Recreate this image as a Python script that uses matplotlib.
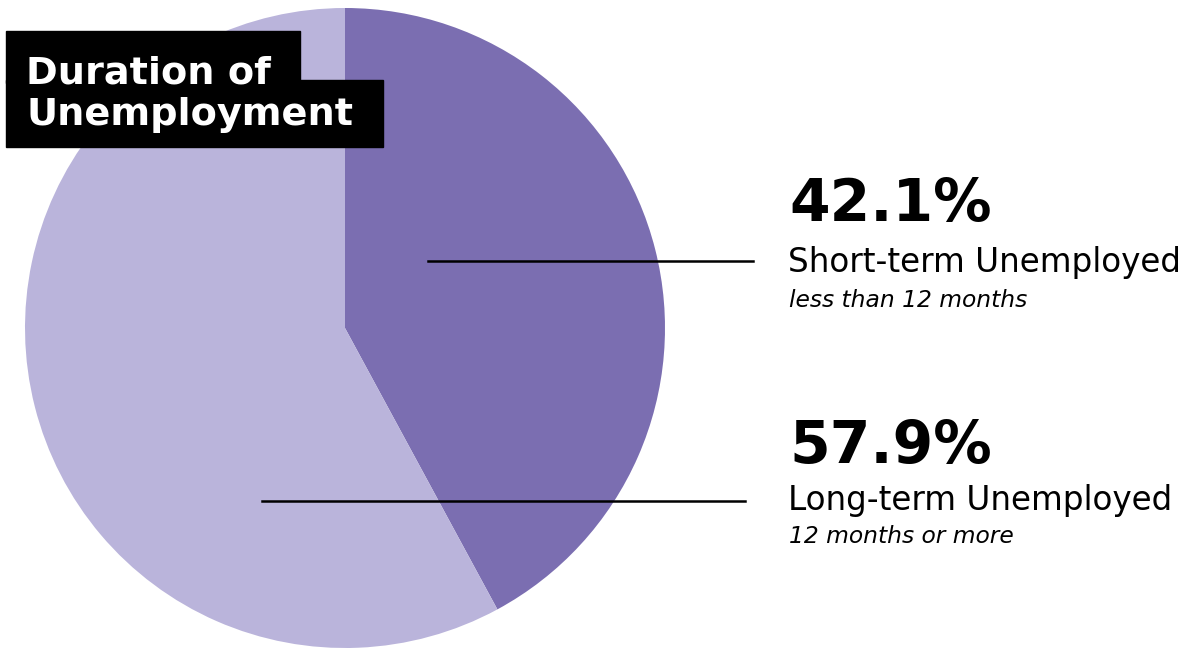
import matplotlib.pyplot as plt

labels = ["Short-term Unemployed", "Long-term Unemployed"]
notes = ["less than 12 months", "12 months or more"]
shares = [42.1, 57.9]
colors = ["#7b6eb1", "#bab4db"]

plt.rcParams['font.family'] = ['DejaVu Sans']

W, H = 1194, 648
fig = plt.figure(figsize=(W / 100, H / 100), dpi=100)

# pie axes: centre (345, 328) px, radius 320 px
ax = fig.add_axes([25 / W, 0, 640 / W, 640 / H])
ax.pie(shares, colors=colors, startangle=90, counterclock=False,
       radius=1, wedgeprops={'linewidth': 0})
ax.set_xlim(-1, 1)
ax.set_ylim(-1, 1)
ax.set_aspect('equal')
ax.axis('off')

# overlay in pixel coords for labels
ov = fig.add_axes([0, 0, 1, 1])
ov.set_xlim(0, W)
ov.set_ylim(H, 0)
ov.axis('off')

# title boxes
ov.add_patch(plt.Rectangle((6, 31), 294, 52, color='black', zorder=3))
ov.add_patch(plt.Rectangle((6, 80), 377, 67, color='black', zorder=3))
ov.text(26, 83, "Duration of", color='white', fontsize=27.5, fontweight='bold',
        va='baseline', zorder=4)
ov.text(26, 125, "Unemployment", color='white', fontsize=27.5, fontweight='bold',
        va='baseline', zorder=4)

# leader lines and labels
lines = [(428, 753, 261), (262, 745, 501)]
bases = [(221, 272, 307), (463, 510, 543)]
for (x0, x1, y), (b1, b2, b3), lab, note, s in zip(lines, bases, labels, notes, shares):
    ov.plot([x0, x1], [y, y], color='black', lw=1.8)
    ov.text(789, b1, f"{s}%", fontsize=42, fontweight='bold', va='baseline')
    ov.text(788, b2, lab, fontsize=23.5, va='baseline')
    ov.text(789, b3, note, fontsize=16.8, style='italic', va='baseline')

fig.savefig("out.png", dpi=100)
